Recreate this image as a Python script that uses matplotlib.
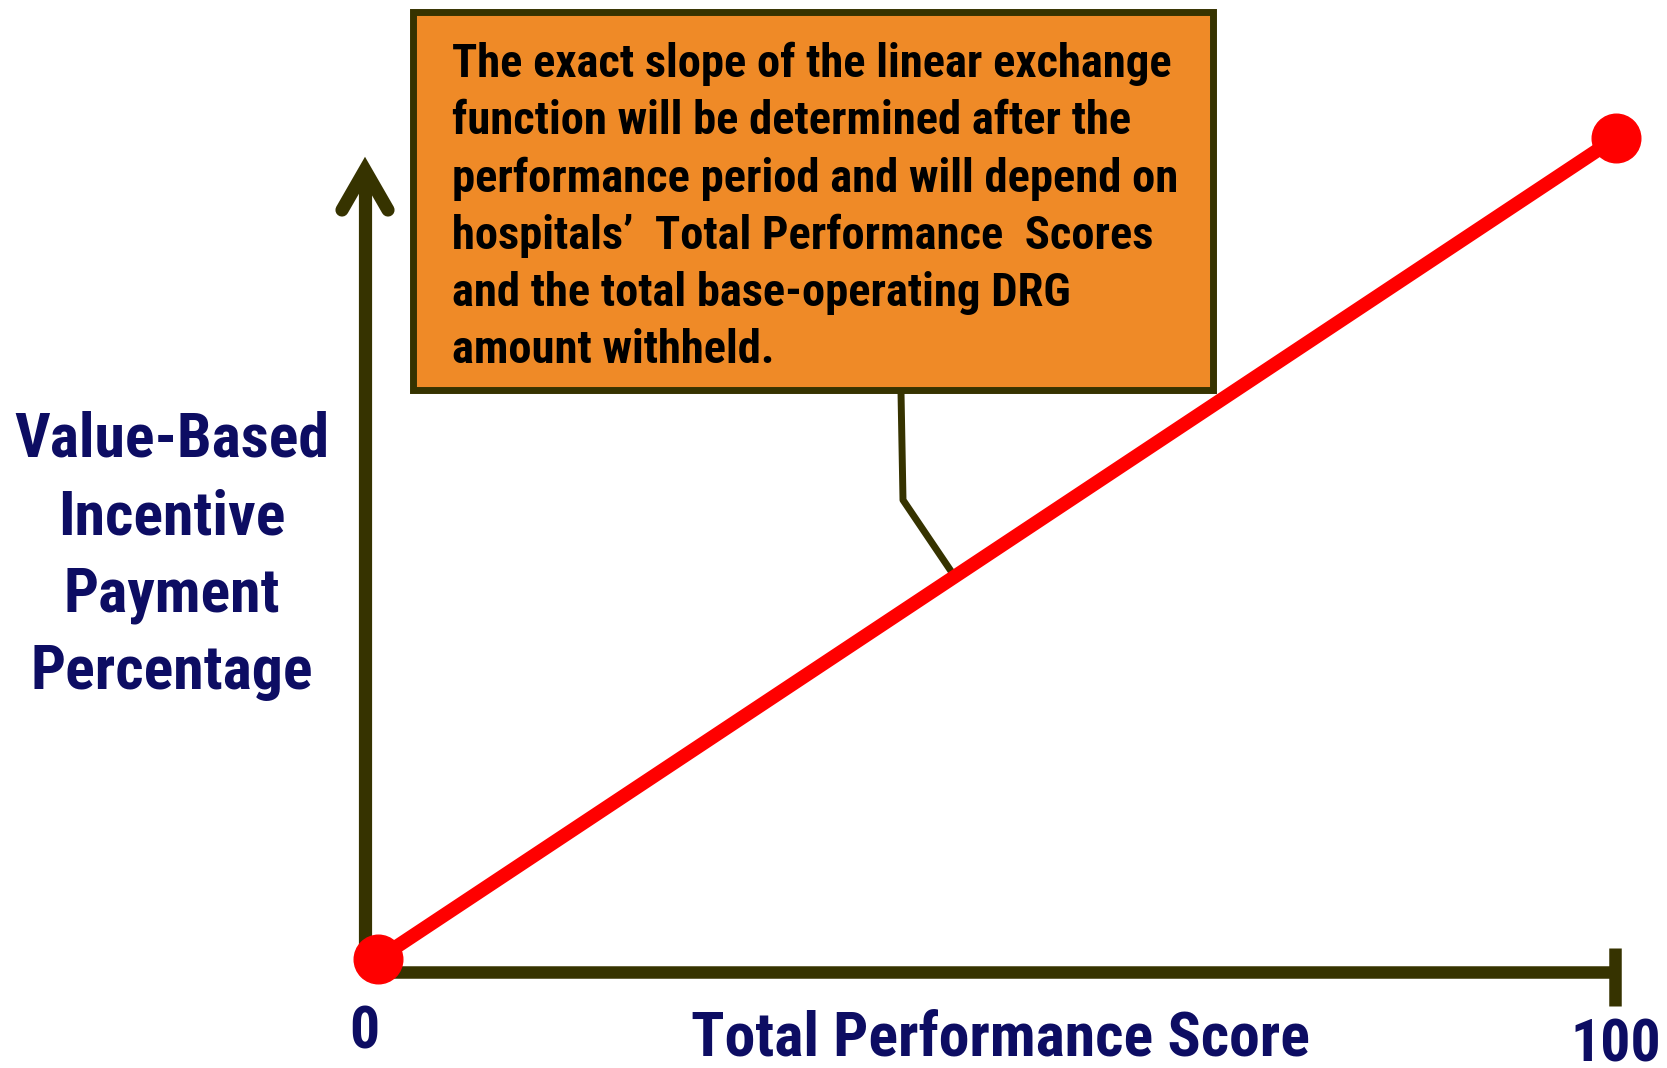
import matplotlib.pyplot as plt
from matplotlib.patches import Rectangle

# Linear exchange function: score 0 -> no incentive, score 100 -> full incentive
score = [0, 100]
payment = [0, 1]
tick_labels = ["0", "100"]

x_label = "Total Performance Score"
y_label = "Value-Based\nIncentive\nPayment\nPercentage"
note = ("The exact slope of the linear exchange\n"
        "function will be determined after the\n"
        "performance period and will depend on\n"
        "hospitals\u2019  Total Performance  Scores\n"
        "and the total base-operating DRG\n"
        "amount withheld.")

W, H = 1667, 1068
navy = "#0d0d63"
olive = "#363300"
red = "#ff0000"
orange = "#ef8a27"
font = ["Roboto Condensed", "DejaVu Sans"]

fig = plt.figure(figsize=(W / 100, H / 100), dpi=100)

# pixel-space overlay for axis arrows and the callout
ov = fig.add_axes([0, 0, 1, 1])
ov.set_xlim(0, W)
ov.set_ylim(H, 0)
ov.axis("off")

# data axes: 0..100 on x, 0..1 on y
x0, x1, y0, y1 = 378, 1616, 959, 138
ax = fig.add_axes([x0 / W, 1 - y0 / H, (x1 - x0) / W, (y0 - y1) / H])
ax.set_xlim(0, 100)
ax.set_ylim(0, 1)
ax.axis("off")

# axes drawn by hand
ov.plot([365, 365], [972, 172], color=olive, lw=9.5, solid_capstyle="butt", zorder=2)
ov.plot([342, 365, 388], [210, 170, 210], color=olive, lw=9.5,
        solid_capstyle="round", solid_joinstyle="miter", zorder=2)
ov.plot([365, 1615], [972, 972], color=olive, lw=9, solid_capstyle="butt", zorder=2)
ov.plot([1615, 1615], [948, 1006], color=olive, lw=9, solid_capstyle="butt", zorder=2)

# the exchange line with end points
ax.plot(score, payment, color=red, lw=10, solid_capstyle="butt", clip_on=False, zorder=3)
ax.plot(score, payment, "o", color=red, ms=35, clip_on=False, zorder=4)

ax.text(score[0] - 1.1, -0.09, tick_labels[0], ha="center", va="center", fontsize=43,
        fontweight="bold", color=navy, family=font, clip_on=False)
ax.text(score[1], -0.105, tick_labels[1], ha="center", va="center", fontsize=43,
        fontweight="bold", color=navy, family=font, clip_on=False)

ax.text(50.3, -0.097, x_label, ha="center", va="center", fontsize=44.5, fontweight="bold",
        color=navy, family=font)
fig.text(172 / W, 1 - 556 / H, y_label, ha="center", va="center", fontsize=44.5,
         fontweight="bold", color=navy, family=font, linespacing=1.42)

# callout box and leader
ov.add_patch(Rectangle((413, 12), 800, 378, facecolor=orange, edgecolor=olive,
                       lw=5, zorder=5))
ov.plot([901, 903, 955], [392, 500, 577], color=olive, lw=5, zorder=5)
ov.text(452, 207, note, ha="left", va="center", fontsize=33.6, fontweight="bold",
        color="black", family=font, linespacing=1.37, zorder=6)

fig.savefig("out.png", dpi=100)
